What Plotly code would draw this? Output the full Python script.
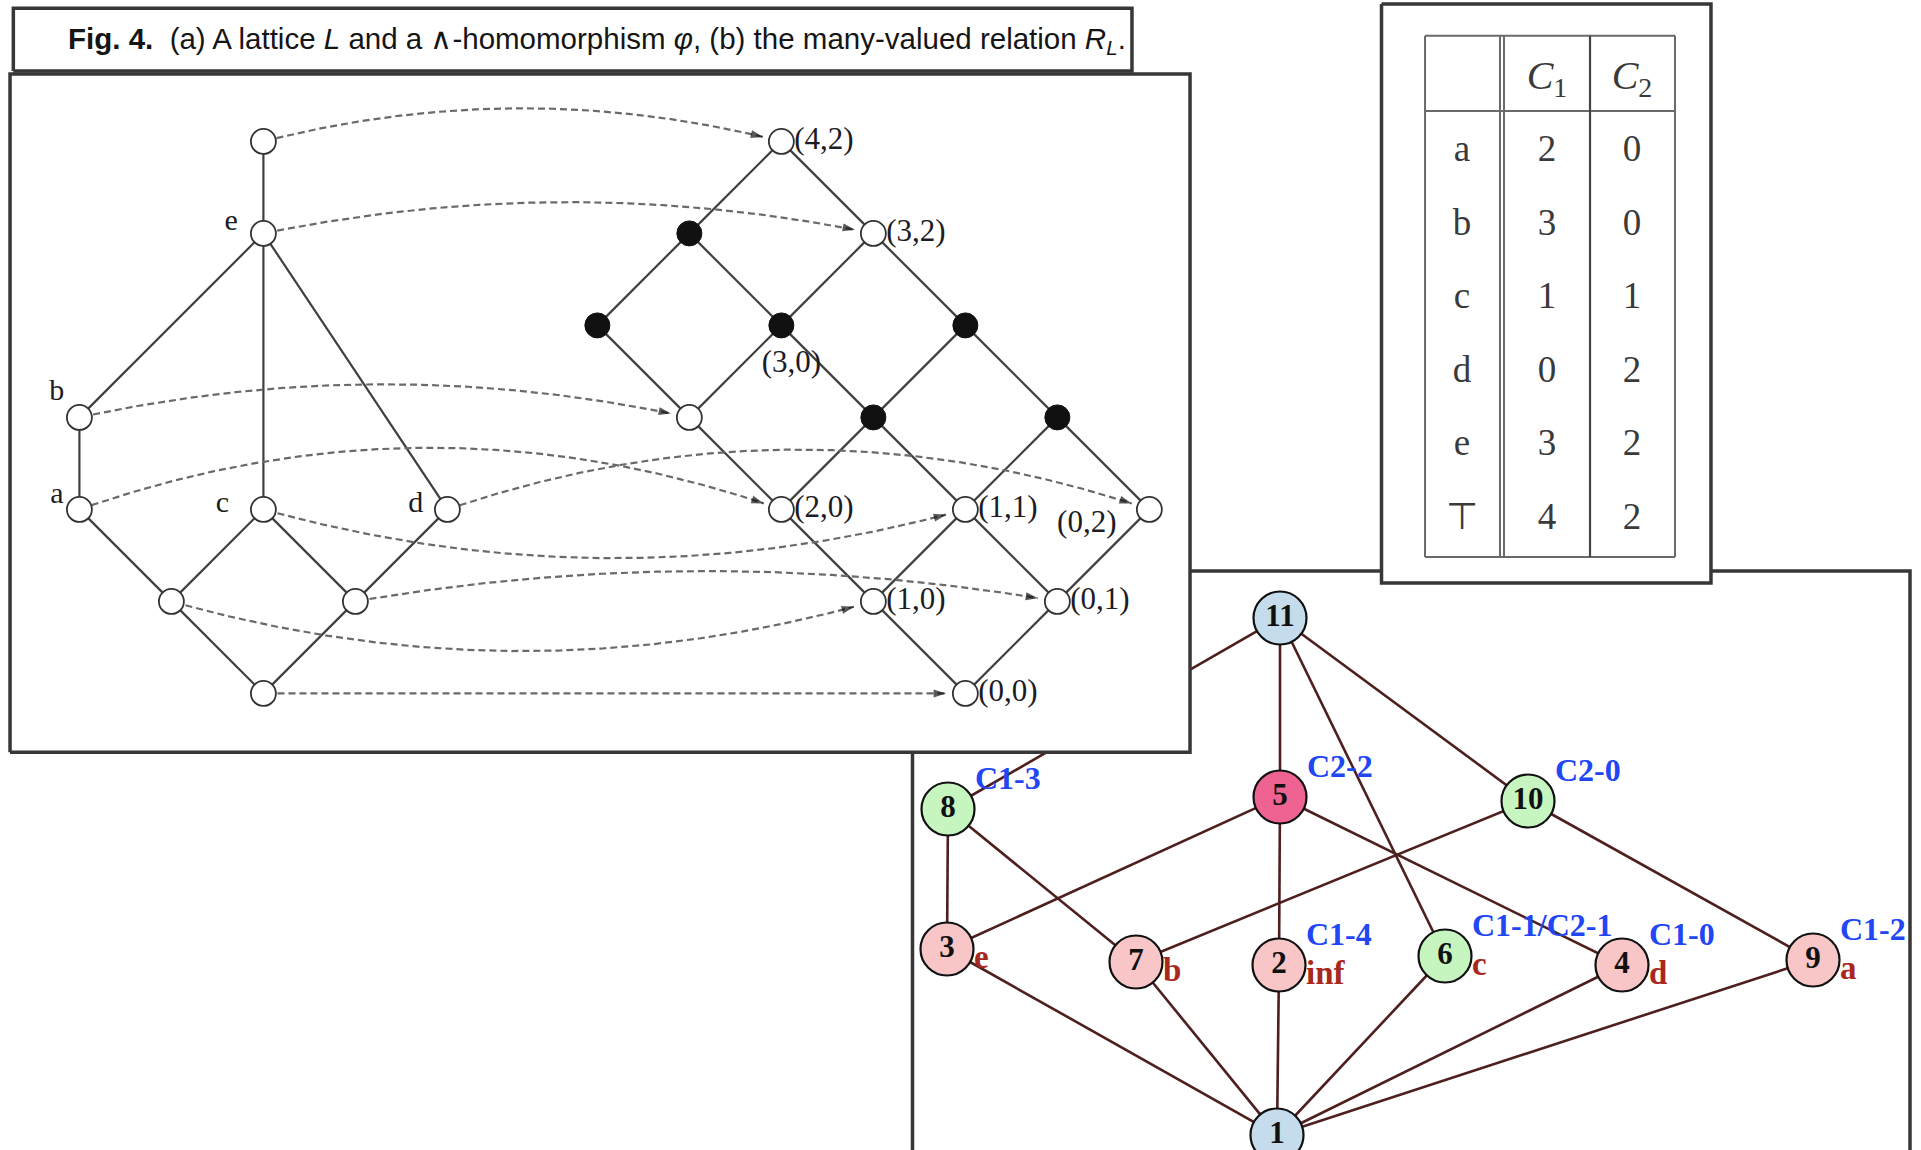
import numpy as np
import plotly.graph_objects as go

W, H = 1921, 1150

# ------------------------------------------------------------------ data
# (a) lattice L : element -> (u, v) grid position
L_names = ["top", "e", "b", "a", "c", "d", "x1", "x2", "bot"]
L_u = [0, 0, -2, -2, 0, 2, -1, 1, 0]
L_v = [6, 5, 3, 2, 2, 2, 1, 1, 0]
L_edges = [("top", "e"), ("e", "b"), ("e", "c"), ("e", "d"), ("b", "a"),
           ("a", "x1"), ("c", "x1"), ("c", "x2"), ("d", "x2"),
           ("x1", "bot"), ("x2", "bot")]
L_labels = ["e", "b", "a", "c", "d"]

# product of chains C1 (0..4) x C2 (0..2)
C1_levels = [0, 1, 2, 3, 4]
C2_levels = [0, 1, 2]
# the wedge-homomorphism phi : L -> C1 x C2
phi_src = ["top", "e", "b", "a", "c", "d", "x1", "x2", "bot"]
phi_dst = [(4, 2), (3, 2), (3, 0), (2, 0), (1, 1), (0, 2), (1, 0), (0, 1), (0, 0)]
phi_bend = [0.36, 0.34, 0.36, 0.67, -0.53, 0.65, -0.54, 0.33, 0.0]

# (b) many-valued relation R_L
tbl_rows = ["a", "b", "c", "d", "e", "⊤"]
tbl_C1 = [2, 3, 1, 0, 3, 4]
tbl_C2 = [0, 0, 1, 2, 2, 2]

# concept lattice (graph) nodes
G_ids = [1, 2, 3, 4, 5, 6, 7, 8, 9, 10, 11]
G_x = [1277, 1279, 947, 1622, 1280, 1445, 1136, 948, 1813, 1528, 1280]
G_y = [1135, 965, 949, 965, 797, 956, 962, 809, 960, 801, 618]
G_kind = ["blue", "pink", "pink", "pink", "hot", "green", "pink", "green", "pink", "green", "blue"]
G_edges = [(11, 8), (11, 5), (11, 6), (11, 10), (8, 3), (8, 7), (5, 3), (5, 2), (5, 4),
           (10, 7), (10, 9), (3, 1), (7, 1), (2, 1), (6, 1), (4, 1), (9, 1)]
G_attr_nodes = [8, 5, 10, 2, 6, 4, 9]
G_attr_text = ["C1-3", "C2-2", "C2-0", "C1-4", "C1-1/C2-1", "C1-0", "C1-2"]
G_obj_nodes = [3, 7, 2, 6, 4, 9]
G_obj_text = ["e", "b", "inf", "c", "d", "a"]

# ------------------------------------------------------------------ style
SERIF = "Liberation Serif, Times New Roman, serif"
FILL = {"blue": "#c5dcec", "pink": "#f8c6c6", "hot": "#ef6392", "green": "#c6f5c0"}
EDGE_B = "#4e1f1f"
BORDER = "#373737"
U = 92.0                      # pixels per lattice grid unit
U0X, U0Y = 263.4, 693.4       # pixel of lattice element "bot"
RIGHT_SHIFT = 7.63            # horizontal shift of product lattice (units)

fig = go.Figure()

# ================================================================ subplot 1 : graph (b)
def box(x0, x1, y0, y1, xa, ya, width=3.5, color=BORDER):
    return go.Scatter(x=[x0, x1, x1, x0, x0], y=[y0, y0, y1, y1, y0], mode="lines",
                      fill="toself", fillcolor="white",
                      line=dict(color=color, width=width), hoverinfo="skip",
                      showlegend=False, xaxis=xa, yaxis=ya)

fig.add_trace(box(912.5, 1910, 571, 1170, "x", "y"))
pos = {i: (x, y) for i, x, y in zip(G_ids, G_x, G_y)}
ex, ey = [], []
for a, b in G_edges:
    ex += [pos[a][0], pos[b][0], None]
    ey += [pos[a][1], pos[b][1], None]
fig.add_trace(go.Scatter(x=ex, y=ey, mode="lines", line=dict(color=EDGE_B, width=2.6),
                         hoverinfo="skip", showlegend=False, xaxis="x", yaxis="y"))
fig.add_trace(go.Scatter(x=G_x, y=G_y, mode="markers+text", text=[str(i) for i in G_ids],
                         textposition="middle center",
                         textfont=dict(family=SERIF, size=31, color="#111"),
                         texttemplate="<b>%{text}</b>",
                         marker=dict(size=53, color=[FILL[k] for k in G_kind],
                                     line=dict(color="#111", width=2.2)),
                         hoverinfo="skip", showlegend=False, xaxis="x", yaxis="y"))
fig.add_trace(go.Scatter(x=[pos[n][0] + 27 for n in G_attr_nodes],
                         y=[pos[n][1] - 28 for n in G_attr_nodes],
                         mode="text", text=["<b>%s</b>" % t for t in G_attr_text],
                         textposition="middle right",
                         textfont=dict(family=SERIF, size=32, color="#2146f3"),
                         hoverinfo="skip", showlegend=False, xaxis="x", yaxis="y"))
fig.add_trace(go.Scatter(x=[pos[n][0] + 27 for n in G_obj_nodes],
                         y=[pos[n][1] + 11 for n in G_obj_nodes],
                         mode="text", text=["<b>%s</b>" % t for t in G_obj_text],
                         textposition="middle right",
                         textfont=dict(family=SERIF, size=33, color="#a8281e"),
                         hoverinfo="skip", showlegend=False, xaxis="x", yaxis="y"))

# ================================================================ subplot 2 : table
# table units: column index (px = 1462 + 85*col), row index (py = 152 + 73.5*row)
TX0, TDX, TY0, TDY = 1462, 85, 152, 73.5
fig.add_trace(box(-0.947, 2.929, -2.014, 5.864, "x2", "y2"))
tl_x, tl_y = [], []
for (xa, ya, xb, yb) in [(-0.435, -1.582, 2.506, -1.582), (-0.435, 5.51, 2.506, 5.51),
                         (-0.435, -1.582, -0.435, 5.51), (2.506, -1.582, 2.506, 5.51),
                         (-0.435, -0.558, 2.506, -0.558),
                         (0.447, -1.582, 0.447, 5.51), (0.494, -1.582, 0.494, 5.51)]:
    tl_x += [xa, xb, None]
    tl_y += [ya, yb, None]
fig.add_trace(go.Scatter(x=tl_x, y=tl_y, mode="lines", line=dict(color="#6a6a6a", width=2),
                         hoverinfo="skip", showlegend=False, xaxis="x2", yaxis="y2"))
fig.add_trace(go.Scatter(x=[1.506, 1.506], y=[-1.582, 5.51], mode="lines",
                         line=dict(color="#444", width=2.2),
                         hoverinfo="skip", showlegend=False, xaxis="x2", yaxis="y2"))
cells_x, cells_y, cells_t = [], [], []
for j, h in enumerate(["<i>C</i><sub>1</sub>", "<i>C</i><sub>2</sub>"]):
    cells_x.append(j + 1); cells_y.append(-1); cells_t.append(h)
for r, (name, v1, v2) in enumerate(zip(tbl_rows, tbl_C1, tbl_C2)):
    for c, val in enumerate([name, v1, v2]):
        cells_x.append(c); cells_y.append(r); cells_t.append(str(val))
fig.add_trace(go.Scatter(x=cells_x[:2], y=cells_y[:2], mode="text", text=cells_t[:2],
                         textposition="middle center",
                         textfont=dict(family=SERIF, size=40, color="#3a3a3a"),
                         hoverinfo="skip", showlegend=False, xaxis="x2", yaxis="y2"))
fig.add_trace(go.Scatter(x=cells_x[2:], y=cells_y[2:], mode="text", text=cells_t[2:],
                         textposition="middle center",
                         textfont=dict(family=SERIF, size=37, color="#3a3a3a"),
                         hoverinfo="skip", showlegend=False, xaxis="x2", yaxis="y2"))

# ================================================================ subplot 3 : lattice (a)
fig.add_trace(box(-2.754, 10.072, -0.639, 6.733, "x3", "y3"))
fig.add_trace(box(-2.718, 9.441, 6.765, 7.447, "x3", "y3"))

Lpos = {n: (u, v) for n, u, v in zip(L_names, L_u, L_v)}
def ppos(c1, c2):
    return (RIGHT_SHIFT + c2 - c1, c1 + c2)

lx, ly = [], []
for a, b in L_edges:
    lx += [Lpos[a][0], Lpos[b][0], None]
    ly += [Lpos[a][1], Lpos[b][1], None]
for c1 in C1_levels:
    for c2 in C2_levels:
        p = ppos(c1, c2)
        if c1 + 1 in C1_levels:
            q = ppos(c1 + 1, c2)
            lx += [p[0], q[0], None]; ly += [p[1], q[1], None]
        if c2 + 1 in C2_levels:
            q = ppos(c1, c2 + 1)
            lx += [p[0], q[0], None]; ly += [p[1], q[1], None]
fig.add_trace(go.Scatter(x=lx, y=ly, mode="lines", line=dict(color="#3f3f3f", width=2.2),
                         hoverinfo="skip", showlegend=False, xaxis="x3", yaxis="y3"))

# dashed arcs for phi
R_SRC, R_DST = 0.14, 0.2
ax_, ay_, hx, hy, hs = [], [], [], [], []
for s, d, bend in zip(phi_src, phi_dst, phi_bend):
    x0, y0 = Lpos[s]
    x2, y2 = ppos(*d)
    cx, cy = (x0 + x2) / 2, (y0 + y2) / 2 + 2 * bend
    t = np.linspace(0, 1, 400)
    x = (1 - t) ** 2 * x0 + 2 * (1 - t) * t * cx + t ** 2 * x2
    y = (1 - t) ** 2 * y0 + 2 * (1 - t) * t * cy + t ** 2 * y2
    keep = (np.hypot(x - x0, y - y0) >= R_SRC) & (np.hypot(x - x2, y - y2) >= R_DST)
    x, y = x[keep], y[keep]
    ax_ += list(x) + [None]
    ay_ += list(y) + [None]
    hx += [x[-4], x[-1], None]
    hy += [y[-4], y[-1], None]
    hs += [0, 13, 0]
fig.add_trace(go.Scatter(x=ax_, y=ay_, mode="lines",
                         line=dict(color="#6a6a6a", width=2.2, dash="7px,4px"),
                         hoverinfo="skip", showlegend=False, xaxis="x3", yaxis="y3"))

white = set(phi_dst)
wx, wy, bx, by = [], [], [], []
for c1 in C1_levels:
    for c2 in C2_levels:
        p = ppos(c1, c2)
        if (c1, c2) in white:
            wx.append(p[0]); wy.append(p[1])
        else:
            bx.append(p[0]); by.append(p[1])
wx += L_u
wy += L_v
fig.add_trace(go.Scatter(x=wx, y=wy, mode="markers",
                         marker=dict(size=25, color="white", line=dict(color="#333", width=1.8)),
                         hoverinfo="skip", showlegend=False, xaxis="x3", yaxis="y3"))
fig.add_trace(go.Scatter(x=bx, y=by, mode="markers",
                         marker=dict(size=25, color="#111", line=dict(color="#111", width=1)),
                         hoverinfo="skip", showlegend=False, xaxis="x3", yaxis="y3"))
fig.add_trace(go.Scatter(x=hx, y=hy, mode="markers",
                         marker=dict(size=hs, symbol="arrow", angleref="previous", color="#111",
                                     line=dict(width=0)),
                         hoverinfo="skip", showlegend=False, xaxis="x3", yaxis="y3"))

# labels of the product lattice
lab_off = {(3, 0): (1.11, 0.58, "middle center"), (0, 2): (-0.68, -0.16, "middle center")}
for d in phi_dst:
    p = ppos(*d)
    dx, dy, tp = lab_off.get(d, (0.14, 0.0, "middle right"))
    fig.add_trace(go.Scatter(x=[p[0] + dx], y=[p[1] + dy], mode="text",
                             text=["(%d,%d)" % d], textposition=tp,
                             textfont=dict(family=SERIF, size=31, color="#1c1c24"),
                             hoverinfo="skip", showlegend=False, xaxis="x3", yaxis="y3"))
L_lab_off = {"e": (-0.35, 0.12), "b": (-0.245, 0.27), "a": (-0.245, 0.15),
             "c": (-0.446, 0.054), "d": (-0.345, 0.054)}
fig.add_trace(go.Scatter(x=[Lpos[n][0] + L_lab_off[n][0] for n in L_labels],
                         y=[Lpos[n][1] + L_lab_off[n][1] for n in L_labels],
                         mode="text", text=L_labels, textposition="middle center",
                         textfont=dict(family=SERIF, size=30, color="#1c1c24"),
                         hoverinfo="skip", showlegend=False, xaxis="x3", yaxis="y3"))

# ------------------------------------------------------------------ layout
def ax(rng, anchor):
    return dict(domain=[0, 1], range=rng, visible=False, fixedrange=True, anchor=anchor)

fig.update_layout(
    width=W, height=H, margin=dict(l=0, r=0, t=0, b=0),
    paper_bgcolor="white", plot_bgcolor="rgba(0,0,0,0)", showlegend=False,
    xaxis=ax([0, W], "y"), yaxis=ax([H, 0], "x"),
    xaxis2=ax([(0 - TX0) / TDX, (W - TX0) / TDX], "y2"),
    yaxis2=ax([(H - TY0) / TDY, (0 - TY0) / TDY], "x2"),
    xaxis3=ax([(0 - U0X) / U, (W - U0X) / U], "y3"),
    yaxis3=ax([(U0Y - H) / U, U0Y / U], "x3"),
    annotations=[dict(
        x=66 / W, y=1 - 41 / H, xref="paper", yref="paper",
        xanchor="left", yanchor="middle", showarrow=False,
        text="<b>Fig. 4.</b>  (a) A lattice <i>L</i> and a ∧-homomorphism <i>φ</i>, (b) the many-valued relation <i>R</i><sub><i>L</i></sub>.",
        font=dict(family="Liberation Sans Narrow, Arial Narrow, Liberation Sans, sans-serif",
                  size=29.5, color="#151515"))],
)

fig.write_html("out.html", config={"displayModeBar": False},
               post_script="document.body.style.margin='0';document.body.style.overflow='hidden';")
